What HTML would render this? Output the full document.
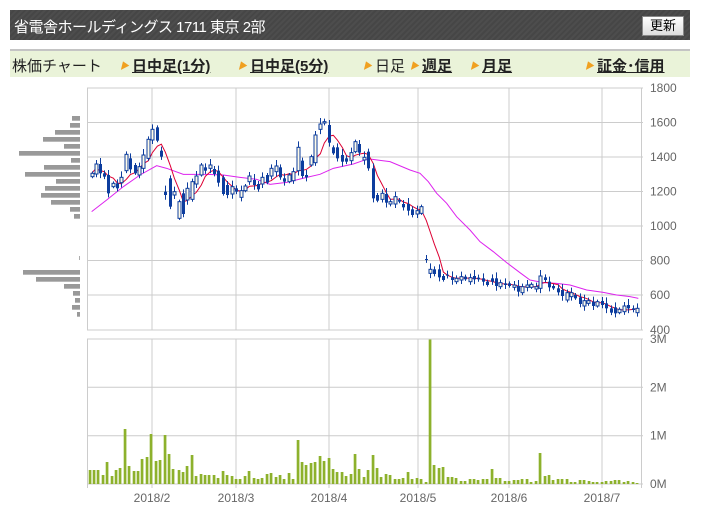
<!DOCTYPE html>
<html><head><meta charset="utf-8"><style>
body{margin:0;width:701px;height:532px;background:#fff;overflow:hidden;font-family:"Liberation Sans","Noto Sans CJK JP",sans-serif;}
#hdr{position:absolute;left:10px;top:10px;width:680px;height:30px;background:repeating-linear-gradient(135deg,#4d4d4d 0,#4d4d4d 2px,#464646 2px,#464646 4px);}
#hdr .t{position:absolute;left:4px;top:6px;color:#fff;font-size:15px;letter-spacing:-0.5px;}
#btn{position:absolute;left:632px;top:6px;width:40px;height:18px;background:linear-gradient(#fff,#ddd);border:1px solid #888;font-size:13px;text-align:center;line-height:18px;color:#000;}
#nav{position:absolute;left:10px;top:49px;width:680px;height:26px;background:#eaf3d9;border-top:2px solid #c4c4c4;font-size:15px;color:#222;}
#nav span{position:absolute;top:4px;white-space:nowrap;}
#nav b{text-decoration:underline;}
.ar{color:#f0a020;font-size:9px;vertical-align:2px;margin-right:3px;}
svg{position:absolute;left:0;top:0;}
</style></head><body>
<div id="hdr"><div class="t">省電舎ホールディングス 1711 東京 2部</div><div id="btn">更新</div></div>
<div id="nav">
<span style="left:2px">株価チャート</span>
<span style="left:110px"><i class="ar">▶</i><b>日中足(1分)</b></span>
<span style="left:228px"><i class="ar">▶</i><b>日中足(5分)</b></span>
<span style="left:353px"><i class="ar">▶</i>日足</span>
<span style="left:400px"><i class="ar">▶</i><b>週足</b></span>
<span style="left:460px"><i class="ar">▶</i><b>月足</b></span>
<span style="left:575px"><i class="ar">▶</i><b>証金･信用</b></span>
</div>
<svg id="s" width="701" height="532" xmlns="http://www.w3.org/2000/svg"></svg>
<script>
var s=document.getElementById('s'),h='';
function L(x1,y1,x2,y2,c,w){h+='<line x1="'+x1+'" y1="'+y1+'" x2="'+x2+'" y2="'+y2+'" stroke="'+c+'" stroke-width="'+(w||1)+'"/>';}
function R(x,y,w,hh,f,st){h+='<rect x="'+x+'" y="'+y+'" width="'+w+'" height="'+hh+'" fill="'+f+'"'+(st?' stroke="'+st+'" stroke-width="1"':'')+'/>';}
function T(x,y,t,a){h+='<text x="'+x+'" y="'+y+'" font-size="12" fill="#666" font-family="Liberation Sans,sans-serif"'+(a?' text-anchor="'+a+'"':'')+'>'+t+'</text>';}
var G='#cccccc';
var ys=[88,122.5,157,191.5,226,260.5,295,330];
var lb=[1800,1600,1400,1200,1000,800,600,400];
for(var i=0;i<8;i++){L(87,ys[i],643,ys[i],G);T(650,ys[i]+4,lb[i]);}
var vx=[152,236,329,418,509,602];
vx.forEach(function(x){L(x,88,x,330,G);L(x,339,x,488,G);});
L(87.5,88,87.5,330,G);L(641.5,88,641.5,330,G);
var vy=[339,387.3,435.7,484];var vl=['3M','2M','1M','0M'];
for(i=0;i<4;i++){L(87,vy[i],643,vy[i],G);T(650,vy[i]+4,vl[i]);}
L(87.5,339,87.5,488,G);L(641.5,339,641.5,488,G);
var dl=['2018/2','2018/3','2018/4','2018/5','2018/6','2018/7'];
vx.forEach(function(x,k){T(x,502,dl[k],'middle');});
var pb=[[78,216],[99,210],[120,165],[141,129],[162,192],[183,57],[204,213],[225,132],[246,75],[267,168],[288,135],[309,123],[330,153],[351,210],[372,222],[540,69],[561,108],[582,192],[603,219],[624,225],[645,216],[666,231]];
pb.forEach(function(p){R(p[1]/3,90+p[0]/3,80-p[1]/3,4.7,'#999');});
R(79,256,0.8,4,'#999');
var v6=[[15,150],[27,150],[39,150],[54,165],[66,126],[81,168],[93,150],[105,144],[120,27],[132,138],[147,153],[159,153],[171,117],[186,111],[198,42],[213,123],[225,120],[240,45],[252,102],[264,147],[282,150],[294,156],[306,138],[321,105],[333,168],[348,162],[360,165],[372,165],[387,165],[399,174],[414,153],[426,165],[441,168],[453,177],[465,177],[480,168],[492,153],[507,174],[519,177],[531,174],[546,162],[558,159],[573,171],[585,165],[597,177],[612,159],[624,177],[639,60],[651,126],[663,135],[678,129],[690,126],[705,108],[717,123],[732,114],[744,147],[756,156],[771,156],[783,168],[798,162],[810,102],[822,147],[837,171]];
var v7=[[24,150],[39,105],[51,144],[63,171],[78,162],[90,165],[105,177],[117,177],[129,174],[144,156],[156,177],[171,174],[183,177],[198,186],[210,-243],[222,135],[237,144],[249,141],[264,171],[276,171],[288,174],[303,183],[315,183],[330,177],[342,177],[354,180],[369,177],[381,177],[396,147],[408,174],[420,174],[435,183],[447,183],[462,180],[474,180],[486,177],[501,177],[513,186],[528,183],[540,99],[555,168],[567,165],[579,180],[594,177],[606,177],[621,177],[633,186],[645,186],[660,180],[672,180],[687,183],[699,186],[711,186],[726,186],[738,183],[753,183],[765,180],[777,180],[792,186],[804,183],[819,186],[831,189]];
function vb(x,zt){var y=420+zt/3;if(y<339.5)y=339.5;R(x-1.3,y,2.7,484-y,'#8db12c');}
v6.forEach(function(b){vb(85+b[0]/3,b[1]);});
v7.forEach(function(b){vb(360+b[0]/3,b[1]);});
var c2=[[35,250,260,0],[47,222,252,0],[59,222,250,1],[73,250,260,1],[85,255,310,1],[100,280,290,0],[112,280,295,1],[124,262,278,0],[139,193,242,0],[151,205,238,1],[166,225,250,1],[178,230,255,0],[190,195,235,0],[205,148,205,0],[217,118,150,0],[232,112,152,1],[244,182,200,1],[256,305,315,1],[271,265,350,1],[283,305,315,0],[298,335,385,0],[310,310,372,1],[322,295,330,0],[337,275,328,0],[349,258,282,0],[364,225,255,0],[376,232,242,1],[391,225,235,0],[403,237,252,1],[415,242,278,1],[430,262,312,1],[442,285,315,1],[457,290,312,0],[469,295,305,1],[484,302,322,0],[496,288,302,0],[508,258,275,0],[523,270,285,1],[535,282,298,1],[547,262,282,0],[562,255,278,1],[574,235,258,0],[589,228,245,0],[601,232,262,1],[613,265,275,1],[628,255,275,0],[640,245,272,0],[655,172,242,0],[667,212,258,1],[679,255,262,1],[694,200,225,0],[706,135,218,0],[721,102,118,0],[733,95,99,0],[748,105,158,1],[760,172,190,1],[772,172,205,1],[787,195,215,1],[799,205,215,1],[814,188,212,0],[826,155,185,0],[838,162,188,1],[853,202,210,0],[865,185,235,1]];
var c3=[[10,235,325,1],[22,315,332,1],[35,310,328,0],[49,312,338,1],[61,335,342,0],[76,320,342,0],[88,330,335,1],[100,342,352,1],[115,342,362,1],[127,358,375,1],[142,362,372,0],[154,350,370,0],[169,507,509,1],[181,538,550,0],[193,538,552,1],[208,538,562,1],[220,558,570,1],[232,554,556,1],[247,562,570,1],[259,565,575,0],[274,560,570,0],[286,560,568,1],[301,563,575,0],[313,558,568,1],[325,563,568,1],[340,565,575,1],[352,575,585,1],[367,565,575,1],[379,565,588,1],[391,578,590,0],[406,580,585,1],[418,580,588,1],[433,585,592,0],[445,588,605,1],[457,590,608,0],[472,585,592,0],[484,583,592,0],[499,590,597,0],[511,558,595,0],[526,562,570,1],[538,575,592,1],[550,588,595,1],[565,595,607,1],[577,600,618,1],[592,608,630,0],[604,608,620,0],[616,615,625,1],[631,622,642,1],[643,632,648,0],[655,632,640,0],[670,635,648,1],[682,635,648,0],[697,633,645,1],[709,640,655,1],[724,655,668,1],[736,652,670,1],[748,658,668,0],[763,648,665,0],[775,645,655,1],[790,655,660,1],[802,655,668,0]];
var C=[];
c2.forEach(function(c){C.push([80+c[0]/3,90+c[1]/3,90+c[2]/3,c[3]]);});
c3.forEach(function(c){C.push([370+c[0]/3,90+c[1]/3,90+c[2]/3,c[3]]);});
var B='#0d3d9e',cb='';
C.forEach(function(c,k){var w=2+((k*7)%5);var x=Math.round(c[0])+0.5;
cb+='<line x1="'+x+'" y1="'+(c[1]-w)+'" x2="'+x+'" y2="'+(c[2]+w*0.8)+'" stroke="'+B+'" stroke-width="1"/>';
var hh=Math.max(c[2]-c[1],1);
if(c[3])cb+='<rect x="'+(x-1.5)+'" y="'+c[1]+'" width="3" height="'+hh+'" fill="'+B+'"/>';
else cb+='<rect x="'+(x-1.5)+'" y="'+c[1]+'" width="3" height="'+hh+'" fill="#fffbe8" stroke="'+B+'" stroke-width="1"/>';});
var m2=[[35,365],[80,330],[130,290],[180,255],[230,227],[260,235],[310,253],[380,253],[430,255],[480,262],[530,268],[570,283],[620,277],[680,262],[720,253],[760,235],[820,222],[860,208],[900,213]];
var m3=[[0,207],[60,215],[120,240],[150,250],[175,275],[200,310],[230,340],[260,380],[300,420],[330,455],[370,485],[410,518],[450,548],[480,570],[520,578],[560,580],[600,585],[650,600],[700,607],[740,615],[780,620],[805,625]];
var mp=[];m2.forEach(function(p){if(p[0]<880)mp.push((80+p[0]/3)+','+(90+p[1]/3));});
m3.forEach(function(p){mp.push((370+p[0]/3)+','+(90+p[1]/3));});
h+='<polyline points="'+mp.join(' ')+'" fill="none" stroke="#dd22ee" stroke-width="1"/>';
var cl=C.map(function(c){return c[3]?c[2]:c[1];});
var rp=[];for(i=0;i<C.length;i++){var a=0,n=0;for(var j=Math.max(0,i-4);j<=i;j++){a+=cl[j];n++;}rp.push(C[i][0]+','+(a/n));}
h+='<polyline points="'+rp.join(' ')+'" fill="none" stroke="#dd0033" stroke-width="1"/>';
h+=cb;
s.innerHTML=h;
</script>
</body></html>
